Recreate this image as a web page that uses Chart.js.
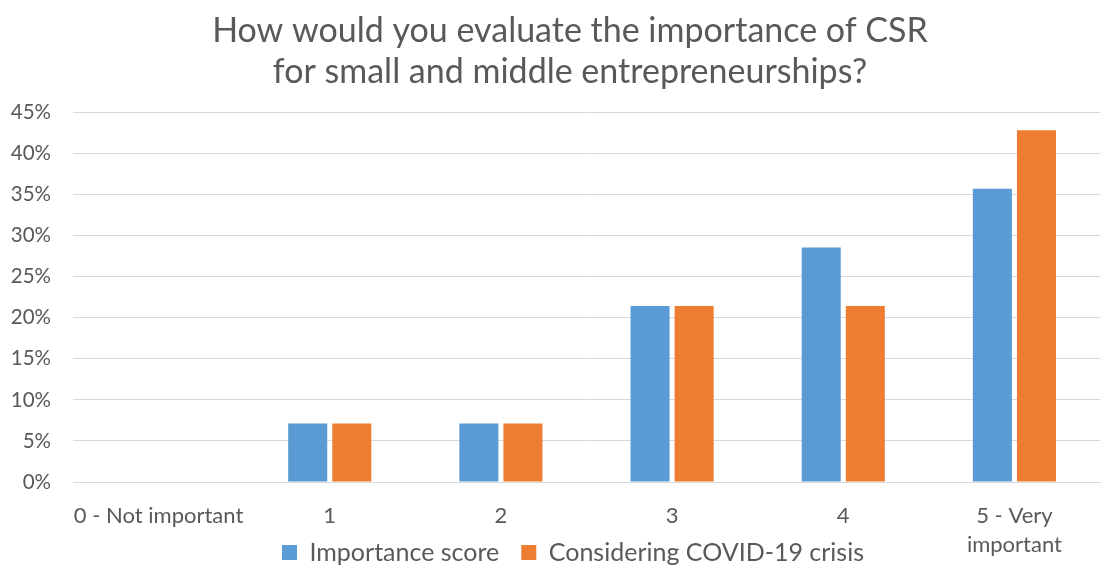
<!DOCTYPE html>
<html>
<head>
<meta charset="utf-8">
<script src="https://cdn.jsdelivr.net/npm/chart.js@4/dist/chart.umd.min.js"></script>
<style>
  html, body { margin: 0; padding: 0; background: #fff; }
  #wrap { width: 1104px; height: 566px; position: relative; }
</style>
</head>
<body>
<div id="wrap"><canvas id="myChart" width="1104" height="566"></canvas></div>
<script>
const categories = ['0 - Not important', '1', '2', '3', '4', ['5 - Very', 'important']];
const importanceScore = [0, 7.14, 7.14, 21.43, 28.57, 35.71];
const covidCrisis = [0, 7.14, 7.14, 21.43, 21.43, 42.86];
const titleLines = ['How would you evaluate the importance of CSR', 'for small and middle entrepreneurships?'];

const fontFamily = 'Lato, "Open Sans", sans-serif';
const textColor = '#595959';

Chart.defaults.font.family = fontFamily;
Chart.defaults.color = textColor;

// nudge title and legend like the original layout,
// and let the x labels run down beside the legend
const shiftBlocks = {
  id: 'shiftBlocks',
  afterLayout(chart) {
    if (chart.titleBlock) {
      chart.titleBlock.left += 34;
    }
    if (chart.legend) {
      chart.legend.left += 20;
      chart.legend.right += 20;
      chart.legend.top += 9;
      chart.legend.bottom += 9;
    }
    const x = chart.scales.x;
    x.bottom += 60;
    x.height += 60;
  }
};

new Chart(document.getElementById('myChart').getContext('2d'), {
  type: 'bar',
  data: {
    labels: categories,
    datasets: [
      { label: 'Importance score', data: importanceScore, backgroundColor: '#5b9bd5',
        categoryPercentage: 0.515, barPercentage: 0.886 },
      { label: 'Considering COVID-19 crisis', data: covidCrisis, backgroundColor: '#ed7d31',
        categoryPercentage: 0.515, barPercentage: 0.886 }
    ]
  },
  plugins: [shiftBlocks],
  options: {
    responsive: false,
    animation: false,
    layout: { padding: { left: 6, right: 4, top: 6, bottom: 0 } },
    plugins: {
      title: {
        display: true,
        text: titleLines,
        font: { size: 34, weight: 'normal' },
        color: textColor,
        lineHeight: 1.25,
        padding: { top: 5, bottom: 20 }
      },
      legend: {
        position: 'bottom',
        labels: { font: { size: 25 }, boxWidth: 15, boxHeight: 15, color: textColor, padding: 22 }
      },
      tooltip: { enabled: false }
    },
    scales: {
      x: {
        grid: { display: false },
        border: { display: true, color: '#d9d9d9', width: 1 },
        ticks: { font: { size: 22, lineHeight: 1.3 }, color: textColor, maxRotation: 0,
          autoSkip: false, padding: 12 },
        afterFit: scale => { scale.height = 27; }
      },
      y: {
        min: 0, max: 45,
        ticks: { stepSize: 5, font: { size: 20.5 }, color: textColor, padding: 22,
          callback: v => v + '%' },
        grid: { color: '#d9d9d9', lineWidth: 1, drawTicks: false },
        border: { display: false },
        afterFit: scale => { scale.width = 67; }
      }
    }
  }
});
</script>
</body>
</html>
